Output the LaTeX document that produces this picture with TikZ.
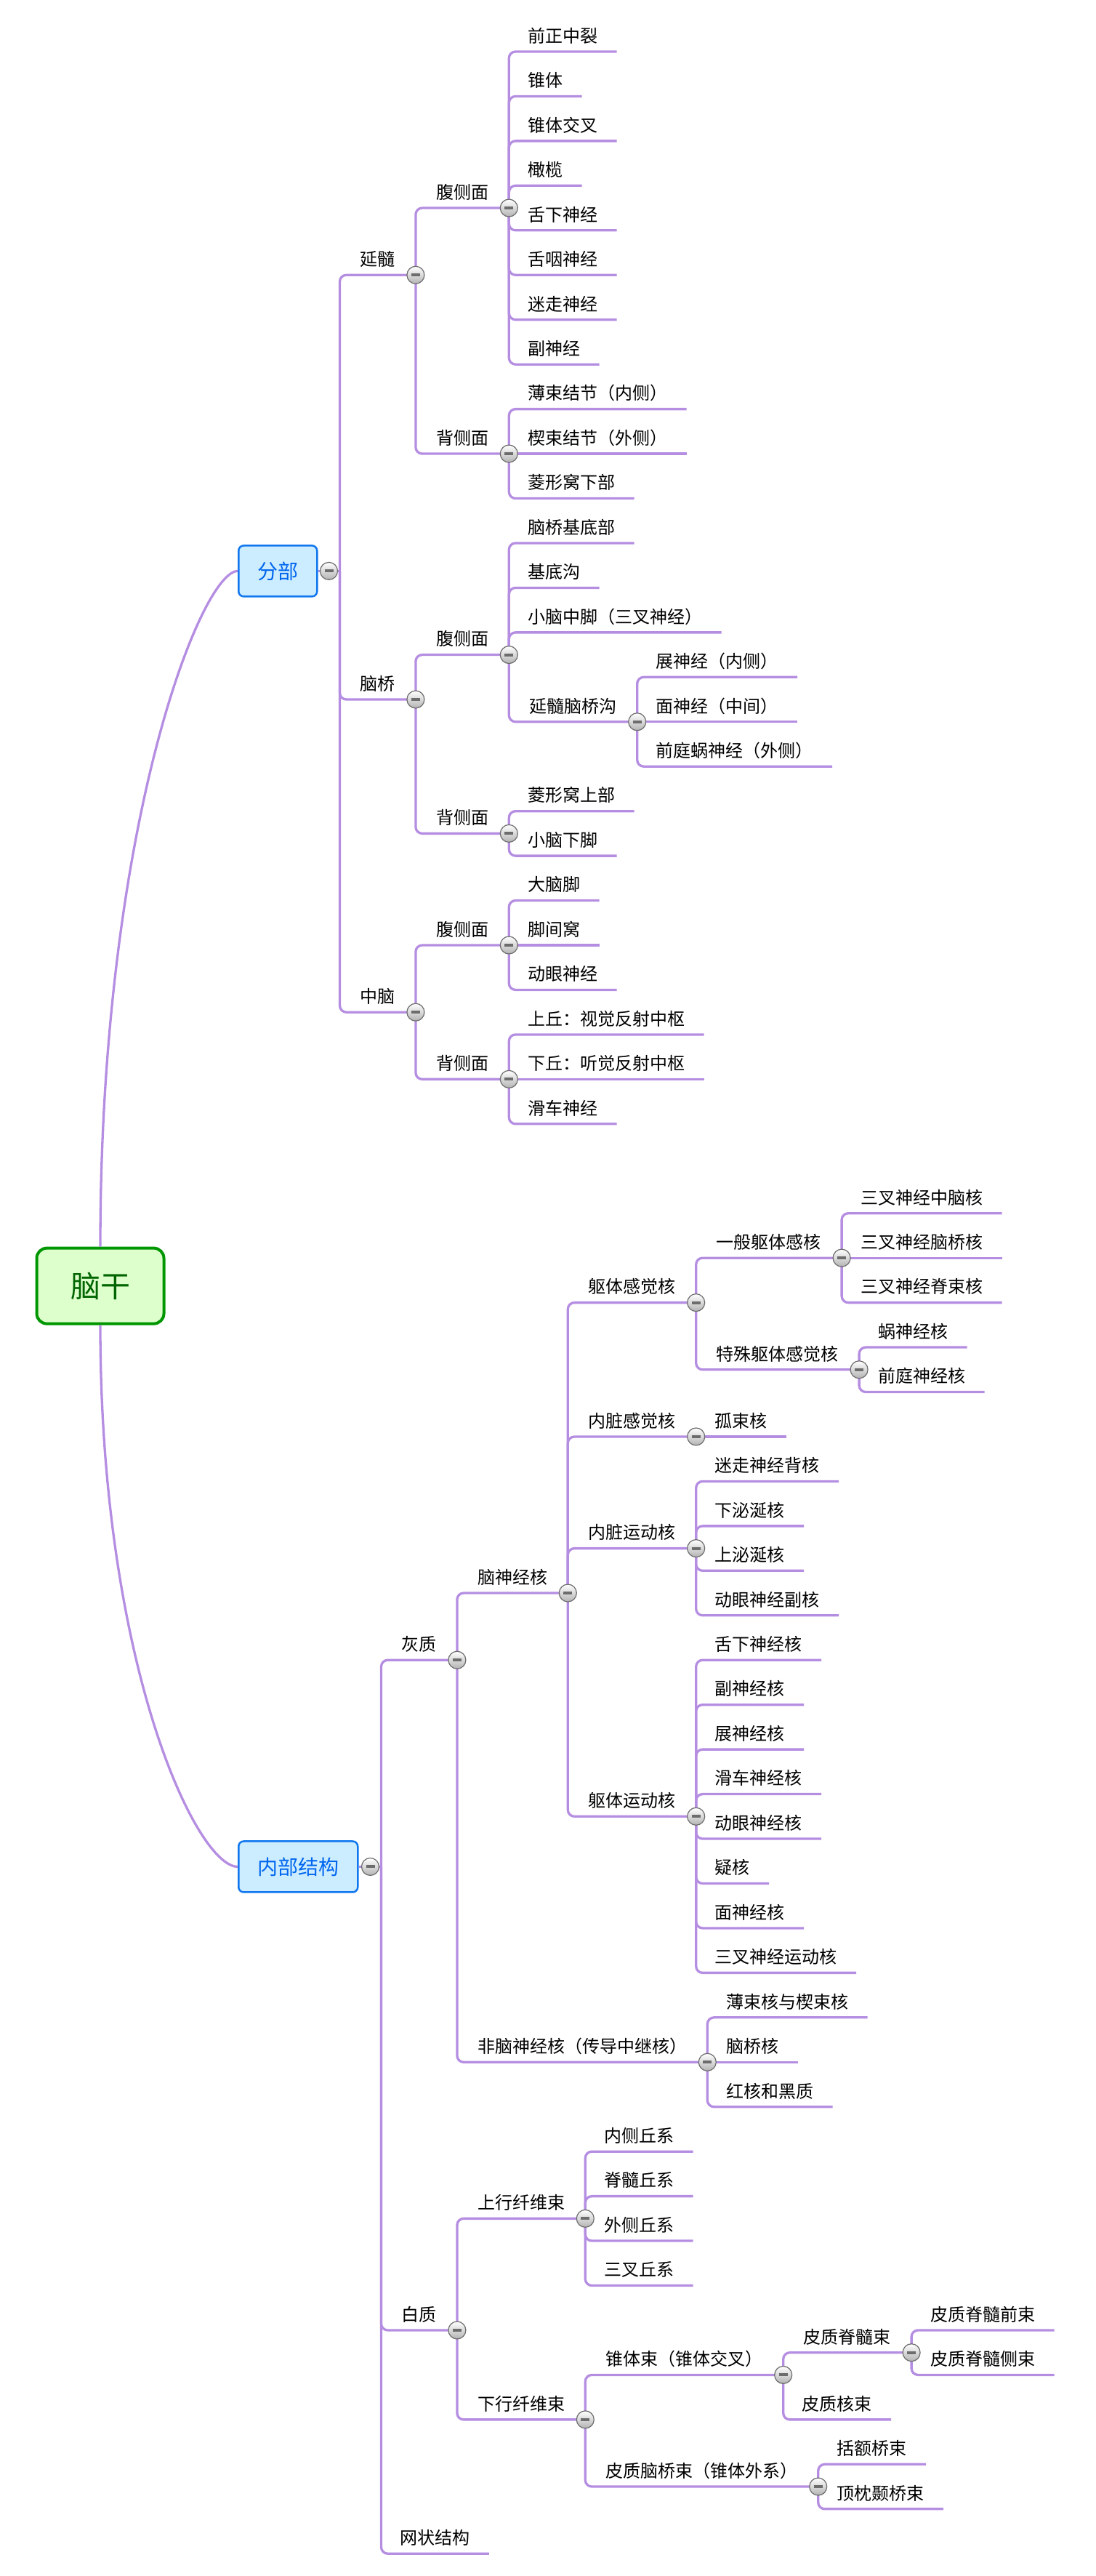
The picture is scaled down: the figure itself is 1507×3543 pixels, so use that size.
\documentclass[tikz,border=0pt]{standalone}
\usepackage{fontspec}
\setmainfont{Noto Sans CJK SC}
\definecolor{linkcol}{RGB}{181,142,226}
\definecolor{rootfill}{RGB}{221,255,204}
\definecolor{rootline}{RGB}{0,150,0}
\definecolor{roottext}{RGB}{0,100,0}
\definecolor{boxfill}{RGB}{204,236,255}
\definecolor{boxline}{RGB}{17,119,238}
\definecolor{boxtext}{RGB}{0,102,238}
\tikzset{
  link/.style={draw=linkcol,line width=3.3pt,rounded corners=9pt},
  topic/.style={anchor=south west,inner ysep=12.5pt,text height=18pt,text depth=0pt,font=\fontsize{24pt}{28pt}\selectfont},
  leaf/.style={topic,inner xsep=26pt},
  branch/.style={topic,inner xsep=28pt},
  toggle/.style={circle,draw=gray!85!black,line width=1.2pt,top color=white,bottom color=gray!60,minimum size=24pt,inner sep=0pt,
    path picture={\draw[line width=4pt] ([xshift=-6pt]path picture bounding box.center) -- ([xshift=6pt]path picture bounding box.center);}},
  rootbox/.style={yshift=23pt,draw=rootline,fill=rootfill,text=roottext,line width=4pt,rounded corners=14pt,
    minimum width=175pt,minimum height=104pt,font=\fontsize{41pt}{48pt}\selectfont},
  mainbox/.style={anchor=west,yshift=23pt,draw=boxline,fill=boxfill,text=boxtext,line width=2.5pt,rounded corners=7pt,
    inner xsep=26pt,minimum height=70pt,font=\fontsize{28pt}{34pt}\selectfont}
}
\begin{document}
\begin{tikzpicture}[x=1pt,y=-61.45pt]
\useasboundingbox (0pt,71pt) rectangle (1507pt,-3472pt);
\node[rootbox] (root) at (138,28) {脑干};
\node[mainbox] (fenbu) at (327,12) {分部};
\node[mainbox] (neibu) at (327,41) {内部结构};
\coordinate (fb) at ([xshift=30pt]fenbu.east);
\coordinate (nb) at ([xshift=31pt]neibu.east);

\node[branch] (ys) at (fb |- 0,5) {延髓};
\node[branch] (ysf) at (ys.south east |- 0,3.5) {腹侧面};
\foreach \t [count=\i] in {前正中裂,锥体,锥体交叉,橄榄,舌下神经,舌咽神经,迷走神经,副神经}
  \node[leaf] (ysf\i) at (ysf.south east |- 0,\i-1) {\t};
\node[branch] (ysb) at (ys.south east |- 0,9) {背侧面};
\foreach \t [count=\i] in {薄束结节（内侧）,楔束结节（外侧）,菱形窝下部}
  \node[leaf] (ysb\i) at (ysb.south east |- 0,7+\i) {\t};

\node[branch] (nq) at (fb |- 0,14.5) {脑桥};
\node[branch] (nqf) at (nq.south east |- 0,13.5) {腹侧面};
\foreach \t [count=\i] in {脑桥基底部,基底沟,小脑中脚（三叉神经）}
  \node[leaf] (nqf\i) at (nqf.south east |- 0,10+\i) {\t};
\node[branch] (nqg) at (nqf.south east |- 0,15) {延髓脑桥沟};
\foreach \t [count=\i] in {展神经（内侧）,面神经（中间）,前庭蜗神经（外侧）}
  \node[leaf] (nqg\i) at (nqg.south east |- 0,13+\i) {\t};
\node[branch] (nqb) at (nq.south east |- 0,17.5) {背侧面};
\foreach \t [count=\i] in {菱形窝上部,小脑下脚}
  \node[leaf] (nqb\i) at (nqb.south east |- 0,16+\i) {\t};

\node[branch] (zn) at (fb |- 0,21.5) {中脑};
\node[branch] (znf) at (zn.south east |- 0,20) {腹侧面};
\foreach \t [count=\i] in {大脑脚,脚间窝,动眼神经}
  \node[leaf] (znf\i) at (znf.south east |- 0,18+\i) {\t};
\node[branch] (znb) at (zn.south east |- 0,23) {背侧面};
\foreach \t [count=\i] in {上丘：视觉反射中枢,下丘：听觉反射中枢,滑车神经}
  \node[leaf] (znb\i) at (znb.south east |- 0,21+\i) {\t};

\node[branch] (hz) at (nb |- 0,36) {灰质};
\node[branch] (snj) at (hz.south east |- 0,34.5) {脑神经核};
\node[branch] (qtg) at (snj.south east |- 0,28) {躯体感觉核};
\node[branch] (ybq) at (qtg.south east |- 0,27) {一般躯体感核};
\foreach \t [count=\i] in {三叉神经中脑核,三叉神经脑桥核,三叉神经脊束核}
  \node[leaf] (ybq\i) at (ybq.south east |- 0,25+\i) {\t};
\node[branch] (tsq) at (qtg.south east |- 0,29.5) {特殊躯体感觉核};
\foreach \t [count=\i] in {蜗神经核,前庭神经核}
  \node[leaf] (tsq\i) at (tsq.south east |- 0,28+\i) {\t};
\node[branch] (nzg) at (snj.south east |- 0,31) {内脏感觉核};
\node[leaf] (nzg1) at (nzg.south east |- 0,31) {孤束核};
\node[branch] (nzy) at (snj.south east |- 0,33.5) {内脏运动核};
\foreach \t [count=\i] in {迷走神经背核,下泌涎核,上泌涎核,动眼神经副核}
  \node[leaf] (nzy\i) at (nzy.south east |- 0,31+\i) {\t};
\node[branch] (qty) at (snj.south east |- 0,39.5) {躯体运动核};
\foreach \t [count=\i] in {舌下神经核,副神经核,展神经核,滑车神经核,动眼神经核,疑核,面神经核,三叉神经运动核}
  \node[leaf] (qty\i) at (qty.south east |- 0,35+\i) {\t};
\node[branch] (fsn) at (hz.south east |- 0,45) {非脑神经核（传导中继核）};
\foreach \t [count=\i] in {薄束核与楔束核,脑桥核,红核和黑质}
  \node[leaf] (fsn\i) at (fsn.south east |- 0,43+\i) {\t};

\node[branch] (bz) at (nb |- 0,51) {白质};
\node[branch] (sx) at (bz.south east |- 0,48.5) {上行纤维束};
\foreach \t [count=\i] in {内侧丘系,脊髓丘系,外侧丘系,三叉丘系}
  \node[leaf] (sx\i) at (sx.south east |- 0,46+\i) {\t};
\node[branch] (xx) at (bz.south east |- 0,53) {下行纤维束};
\node[branch] (zt) at (xx.south east |- 0,52) {锥体束（锥体交叉）};
\node[branch] (pj) at (zt.south east |- 0,51.5) {皮质脊髓束};
\foreach \t [count=\i] in {皮质脊髓前束,皮质脊髓侧束}
  \node[leaf] (pj\i) at (pj.south east |- 0,50+\i) {\t};
\node[leaf] (ztk) at (zt.south east |- 0,53) {皮质核束};
\node[branch] (pn) at (xx.south east |- 0,54.5) {皮质脑桥束（锥体外系）};
\foreach \t [count=\i] in {括额桥束,顶枕颞桥束}
  \node[leaf] (pn\i) at (pn.south east |- 0,53+\i) {\t};
\node[leaf] (wz) at (nb |- 0,56) {网状结构};

\draw[link] (root.north) .. controls +(0pt,580pt) and +(-50pt,0pt) .. (fenbu.west);
\draw[link] (root.south) .. controls +(0pt,-465pt) and +(-57pt,0pt) .. (neibu.west);
\draw[link] (fenbu.east) -- (fb);
\draw[link] (neibu.east) -- (nb);
\foreach \c in {ys,nq,zn} \draw[link] (fb) |- (\c.south east);
\foreach \c in {hz,bz,wz} \draw[link] (nb) |- (\c.south east);
\foreach \p/\c in {ys/ysf,ys/ysb,ysb/ysb1,ysb/ysb3,nq/nqf,nq/nqb,nqf/nqf1,nqf/nqf2,nqf/nqf3,nqf/nqg,
  nqg/nqg1,nqg/nqg3,nqb/nqb1,nqb/nqb2,zn/znf,zn/znb,znf/znf1,znf/znf3,znb/znb1,znb/znb3,
  hz/snj,hz/fsn,snj/qtg,snj/nzg,snj/nzy,snj/qty,qtg/ybq,qtg/tsq,ybq/ybq1,ybq/ybq3,tsq/tsq1,tsq/tsq2,
  fsn/fsn1,fsn/fsn3,bz/sx,bz/xx,xx/zt,xx/pn,zt/pj,zt/ztk,pj/pj1,pj/pj2,pn/pn1,pn/pn2}
  \draw[link] (\p.south east) |- (\c.south east);
\foreach \p/\c in {ysb/ysb2,nqg/nqg2,znf/znf2,znb/znb2,ybq/ybq2,nzg/nzg1,fsn/fsn2}
  \draw[link] (\p.south east) -- (\c.south east);
\foreach \i in {1,...,8} \draw[link] (ysf.south east) |- (ysf\i.south east);
\foreach \i in {1,...,4} \draw[link] (nzy.south east) |- (nzy\i.south east);
\foreach \i in {1,...,8} \draw[link] (qty.south east) |- (qty\i.south east);
\foreach \i in {1,...,4} \draw[link] (sx.south east) |- (sx\i.south east);

\node[toggle] at ([xshift=15pt]fenbu.east) {};
\node[toggle] at ([xshift=16pt]neibu.east) {};
\foreach \b in {ys,ysf,ysb,nq,nqf,nqg,nqb,zn,znf,znb,hz,snj,qtg,ybq,tsq,nzg,nzy,qty,fsn,bz,sx,xx,zt,pj,pn}
  \node[toggle] at (\b.south east) {};
\end{tikzpicture}
\end{document}
